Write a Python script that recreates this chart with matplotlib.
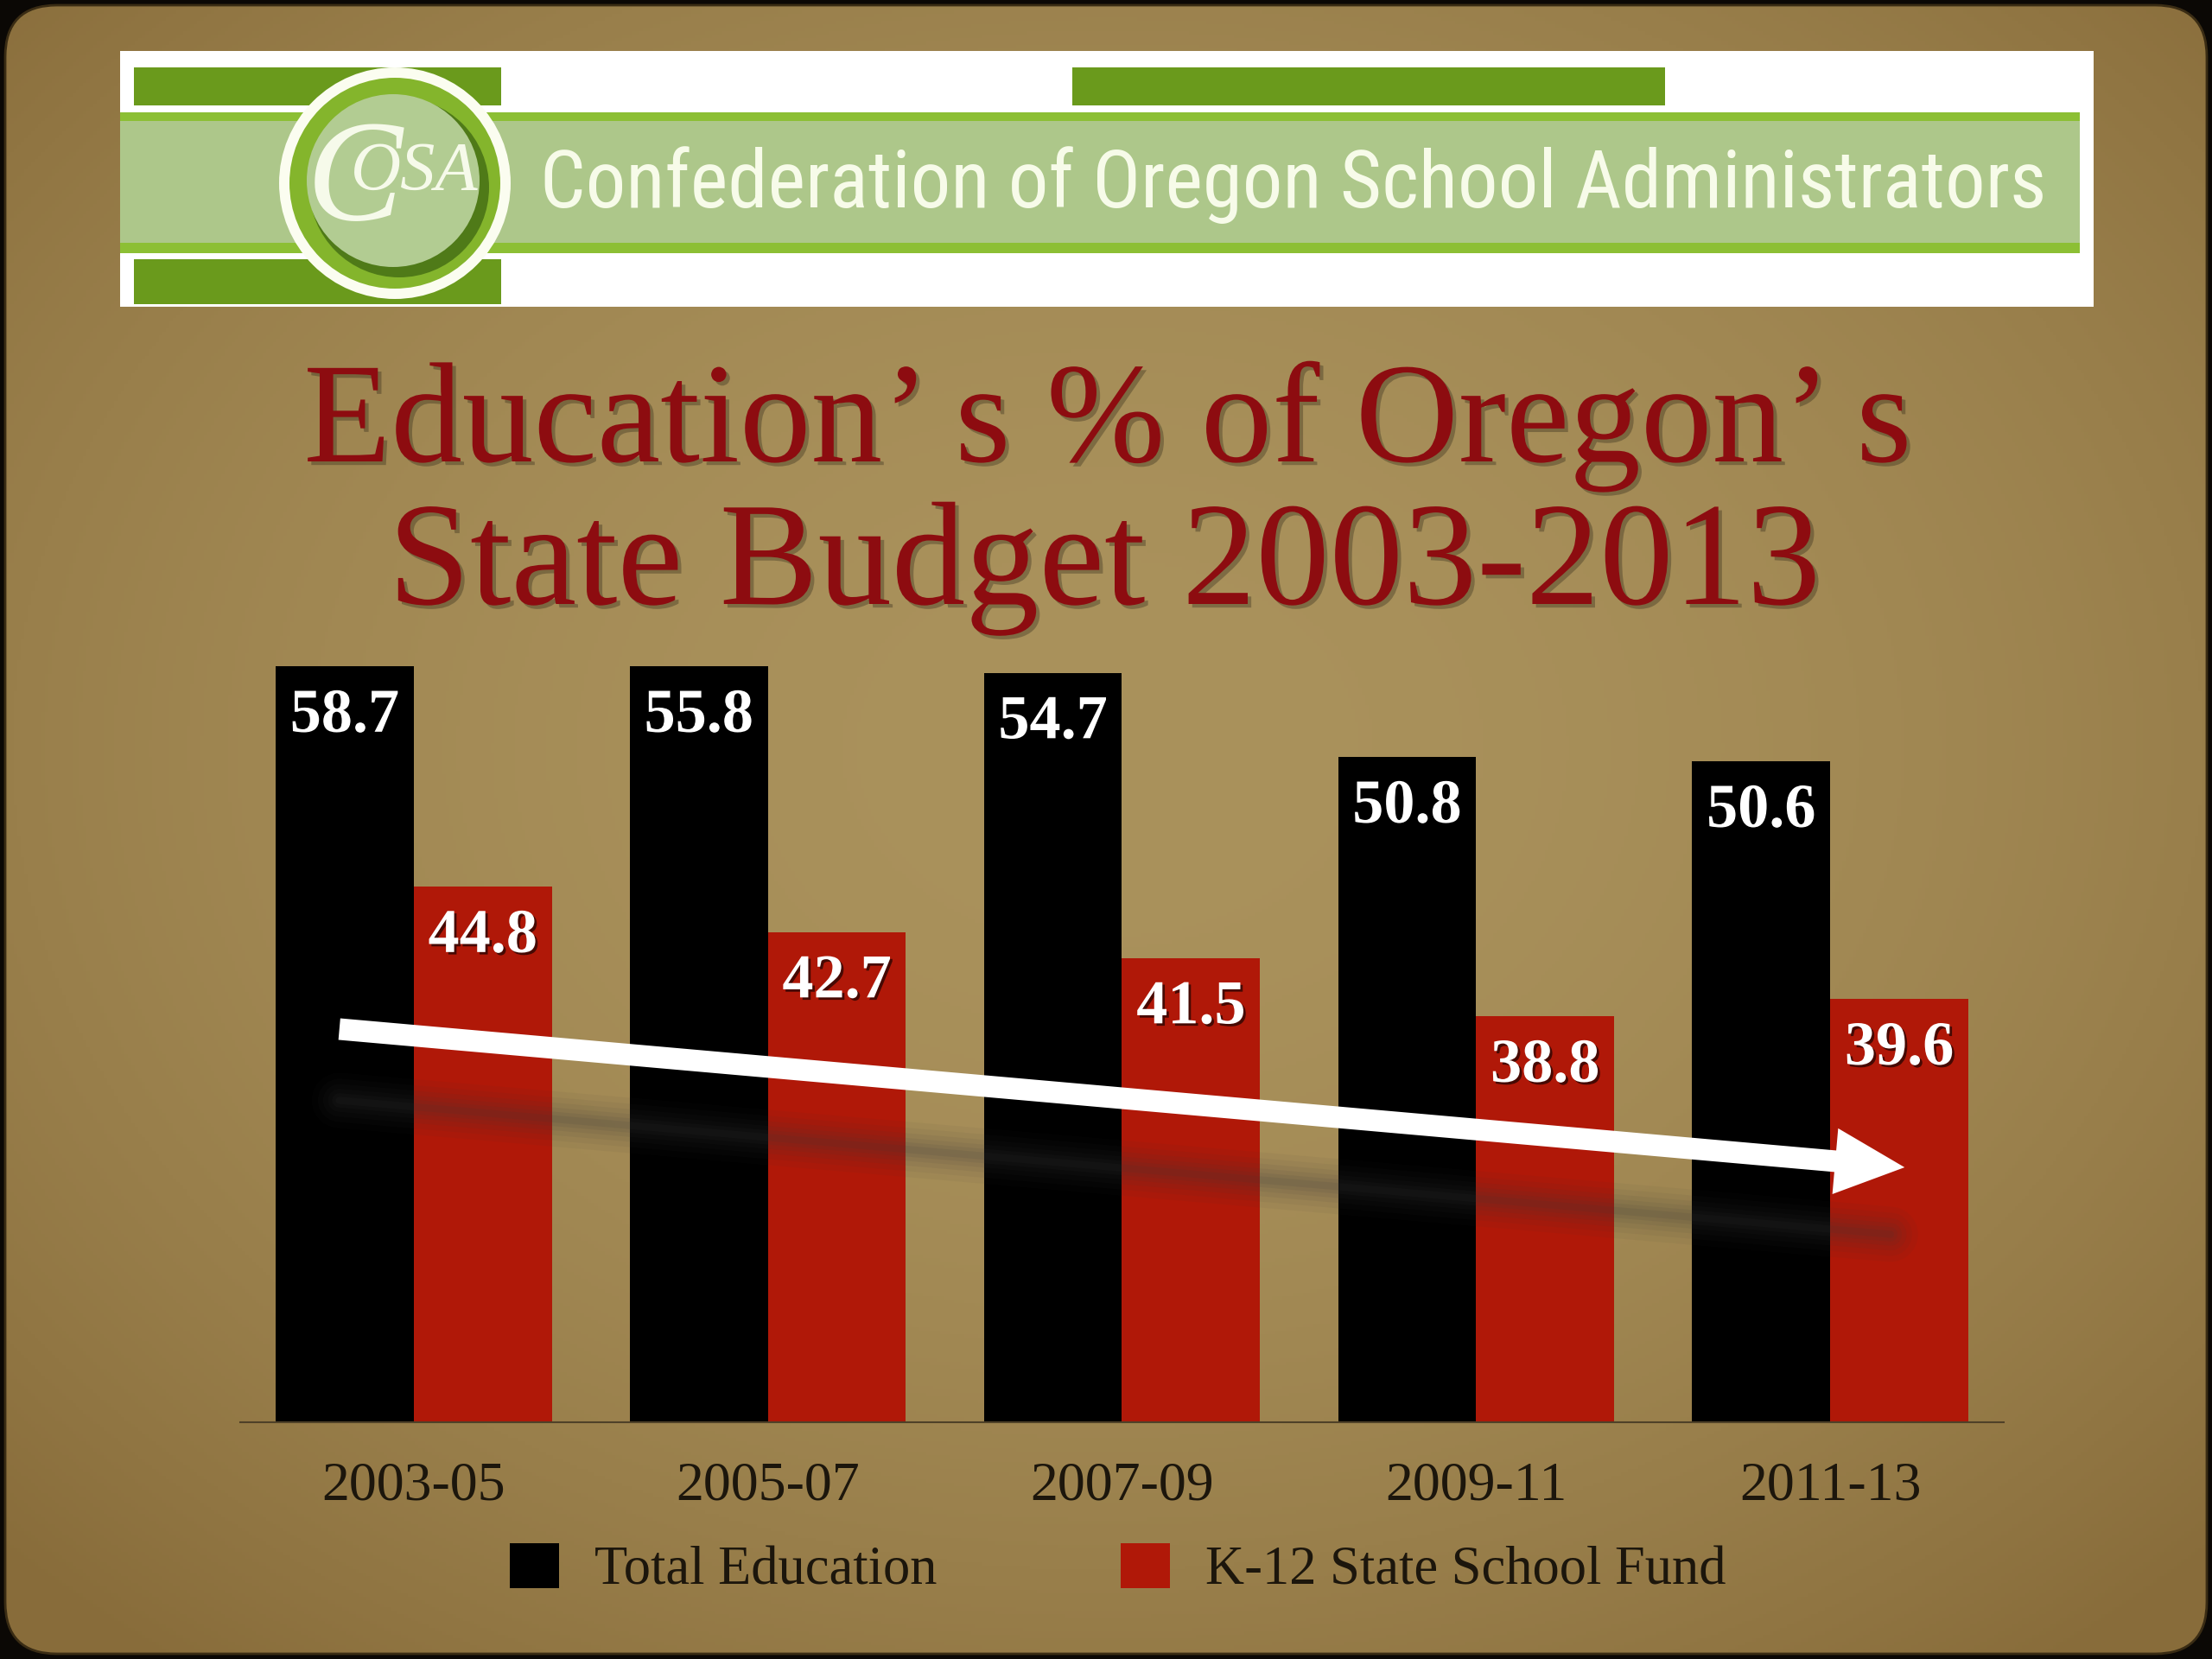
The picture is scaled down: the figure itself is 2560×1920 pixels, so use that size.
import numpy as np
import matplotlib.pyplot as plt
from matplotlib.patches import Rectangle, Circle, FancyBboxPatch
import matplotlib.patheffects as pe

# data
periods = ['2003-05', '2005-07', '2007-09', '2009-11', '2011-13']
total_edu = [58.7, 55.8, 54.7, 50.8, 50.6]
k12_fund = [44.8, 42.7, 41.5, 38.8, 39.6]
series_names = ['Total Education', 'K-12 State School Fund']

title_lines = ['Education’ s % of Oregon’ s', 'State Budget 2003-2013']
banner_text = 'Confederation of Oregon School Administrators'

plt.rcParams['font.family'] = ['Liberation Serif', 'DejaVu Serif']

W, H = 2560, 1920
fig = plt.figure(figsize=(25.6, 19.2), dpi=100, facecolor='#0b0805')

# background axes, pixel coordinates (y downwards)
bg = fig.add_axes([0, 0, 1, 1])
bg.set_xlim(0, W)
bg.set_ylim(H, 0)
bg.axis('off')

# kraft paper, a bit darker at the edges
yy, xx = np.mgrid[0:H:4, 0:W:4]
r = np.sqrt(((xx - W / 2) / (W / 2)) ** 2 + ((yy - H * 0.45) / (H / 2)) ** 2)
t = np.clip(r / 1.4, 0, 1) ** 2
c0 = np.array([170, 146, 92]) / 255
c1 = np.array([136, 108, 58]) / 255
img = c0 * (1 - t[..., None]) + c1 * t[..., None]
im = bg.imshow(img, extent=(0, W, H, 0), zorder=0, aspect='auto')
frame = FancyBboxPatch((6, 6), W - 12, H - 12,
                       boxstyle='round,pad=0,rounding_size=60',
                       fc='none', ec='#3a2c14', lw=2, zorder=1)
bg.add_patch(frame)
im.set_clip_path(frame)

# COSA banner
dark_green = '#6a9a1c'
bright_green = '#8cbf34'
pale_green = '#adc78a'
bg.add_patch(Rectangle((139, 59), 2284, 296, fc='white', ec='none', zorder=2))
bg.add_patch(Rectangle((155, 78), 425, 44, fc=dark_green, zorder=3))
bg.add_patch(Rectangle((1241, 78), 686, 44, fc=dark_green, zorder=3))
bg.add_patch(Rectangle((155, 300), 425, 52, fc=dark_green, zorder=3))
bg.add_patch(Rectangle((139, 130), 2268, 163, fc=bright_green, zorder=3))
bg.add_patch(Rectangle((139, 140), 2268, 141, fc=pale_green, zorder=3))

bg.add_patch(Circle((457, 212), 134, fc='#fbfdf0', zorder=4))
bg.add_patch(Circle((457, 212), 122, fc='#84b52c', zorder=4))
bg.add_patch(Circle((462, 217), 104, fc='#4f7a18', zorder=4))
bg.add_patch(Circle((455, 209), 100, fc='#b2cc92', zorder=4))
bg.text(410, 214, 'C', fontsize=120, style='italic', color='#f6faea',
        ha='center', va='center', zorder=5)
bg.text(480, 200, 'OSA', fontsize=58, style='italic', color='#f6faea',
        ha='center', va='center', zorder=5)

bt = bg.text(625, 240, banner_text, fontsize=60, color='#f7fbe9',
             ha='left', va='baseline', zorder=5,
             family=['Roboto Condensed', 'Roboto', 'DejaVu Sans'])

# title
tcol = '#8d0c10'
shadow = [pe.withSimplePatchShadow(offset=(3, -3), shadow_rgbFace='black', alpha=0.25)]
t1 = bg.text(1282, 534, title_lines[0], fontsize=110, color=tcol,
             ha='center', va='baseline', path_effects=shadow, zorder=5)
t2 = bg.text(1278, 699, title_lines[1], fontsize=110, color=tcol,
             ha='center', va='baseline', path_effects=shadow, zorder=5)


def fit_width(txt, target):
    rend = fig.canvas.get_renderer()
    bb = txt.get_window_extent(renderer=rend)
    txt.set_fontsize(txt.get_fontsize() * target / bb.width)


fit_width(bt, 1746)
fit_width(t1, 1862)
fit_width(t2, 1658)

# chart
ax = fig.add_axes([278 / W, 1 - 1646 / H, (2319 - 278) / W, (1646 - 771) / H])
ax.set_facecolor('none')
x = np.arange(len(periods))
w = 0.39
b1 = ax.bar(x - w / 2, total_edu, w, color='black', label=series_names[0])
b2 = ax.bar(x + w / 2, k12_fund, w, color='#b01808', label=series_names[1])
ax.set_ylim(20, 55)
ax.set_xlim(-0.49, 4.49)
for s in ['top', 'left', 'right']:
    ax.spines[s].set_visible(False)
ax.spines['bottom'].set_color('#4f4128')
ax.spines['bottom'].set_linewidth(1.5)
ax.set_yticks([])
ax.set_xticks(x, periods)
ax.tick_params(axis='x', length=0, pad=33, labelsize=46, labelcolor='#1c160c')

lab_fx = [pe.withSimplePatchShadow(offset=(2, -2), shadow_rgbFace='black', alpha=0.6)]
top = ax.get_ylim()[1]
for bars, vals in [(b1, total_edu), (b2, k12_fund)]:
    for rect, v in zip(bars, vals):
        ax.annotate(f'{v:.1f}', (rect.get_x() + rect.get_width() / 2, min(v, top)),
                    xytext=(0, -42), textcoords='offset points',
                    ha='center', va='center', fontsize=52, fontweight='bold',
                    color='white', path_effects=lab_fx)

# downward trend arrow with a soft shadow
arrow_start = (-0.21, 38.2)
arrow_end = (4.21, 31.8)
shadow_start = (-0.21, 34.9)
shadow_end = (4.17, 28.7)
for lw, a in zip([46, 36, 27, 19, 12, 6], [0.05, 0.06, 0.07, 0.08, 0.09, 0.1]):
    ax.plot([shadow_start[0], shadow_end[0]], [shadow_start[1], shadow_end[1]],
            color='#3a3a3a', lw=lw, alpha=a, solid_capstyle='round')
ax.annotate('', xy=arrow_end, xytext=arrow_start,
            arrowprops=dict(arrowstyle='simple,head_length=0.58,head_width=0.55,tail_width=0.18',
                            fc='white', ec='none', mutation_scale=100,
                            shrinkA=0, shrinkB=0))

fig.legend(handles=[b1, b2], labels=series_names, loc='center',
           bbox_to_anchor=(1294 / W, 1 - 1817 / H), ncol=2, frameon=False,
           fontsize=45, handlelength=0.91, handleheight=0.91,
           handletextpad=0.66, columnspacing=3.4, labelcolor='#1c160c')

fig.savefig('out.png', dpi=100, facecolor=fig.get_facecolor())
